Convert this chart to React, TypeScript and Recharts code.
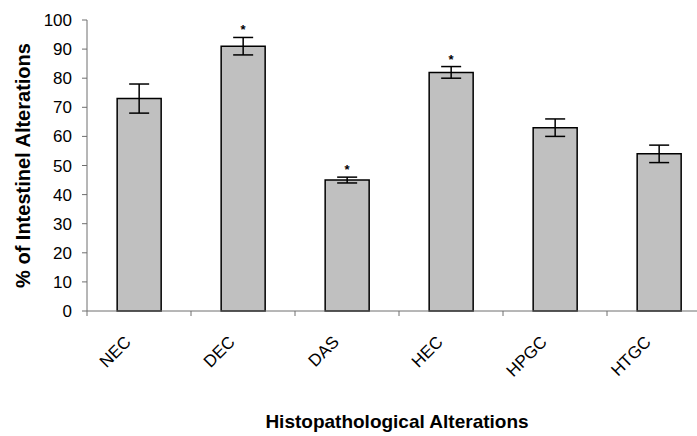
import React from "react";
import {
  ComposedChart,
  Bar,
  Line,
  XAxis,
  YAxis,
  ErrorBar,
} from "recharts";

const categories = ["NEC", "DEC", "DAS", "HEC", "HPGC", "HTGC"];
const values = [73, 91, 45, 82, 63, 54];
const errors = [5, 3, 1, 2, 3, 3];
const significant = [false, true, true, true, false, false];
const yTicks = [0, 10, 20, 30, 40, 50, 60, 70, 80, 90, 100];

const data = categories.map((name, i) => ({
  name,
  value: values[i],
  err: errors[i],
  star: significant[i] ? values[i] + errors[i] : null,
}));

const FONT = "'Liberation Sans', Arial, sans-serif";
const CHART_W = 720;
const CHART_H = 436;
const Y_AXIS_W = 87;
const RIGHT = 9;
const BAND = (CHART_W - Y_AXIS_W - RIGHT) / categories.length;

const CategoryTick = (props: any) => {
  const { x, y, payload } = props;
  const edge = x - BAND / 2;
  const tx = x - 7;
  const ty = y + 24;
  return (
    <g>
      <line x1={edge} y1={y - 8} x2={edge} y2={y - 3} stroke="#6e6e6e" />
      <text
        x={tx}
        y={ty}
        transform={`rotate(-45, ${tx}, ${ty})`}
        textAnchor="end"
        fontFamily={FONT}
        fontSize={17}
        fill="#000"
      >
        {payload.value}
      </text>
    </g>
  );
};

const StarDot = (props: any) => {
  const { cx, cy, payload } = props;
  if (payload.star == null) return <g key={props.key} />;
  return (
    <text
      key={props.key}
      x={cx}
      y={cy - 3}
      textAnchor="middle"
      fontFamily={FONT}
      fontSize={13}
      fontWeight="bold"
      fill="#000"
    >
      *
    </text>
  );
};

const YLabel = (props: any) => {
  const { viewBox } = props;
  const cy = viewBox.y + viewBox.height / 2;
  return (
    <text
      x={23}
      y={cy}
      transform={`rotate(-90, 23, ${cy})`}
      textAnchor="middle"
      dominantBaseline="central"
      fontFamily={FONT}
      fontSize={20}
      fontWeight="bold"
      fill="#000"
    >
      % of Intestinel Alterations
    </text>
  );
};

const XLabel = (props: any) => {
  const { viewBox } = props;
  const cx = viewBox.x + viewBox.width / 2 - 2;
  return (
    <text
      x={cx}
      y={viewBox.y + 117}
      textAnchor="middle"
      fontFamily={FONT}
      fontSize={19}
      fontWeight="bold"
      fill="#000"
    >
      Histopathological Alterations
    </text>
  );
};

export default function App() {
  return (
    <div
      style={{
        position: "fixed",
        left: 0,
        top: 0,
        width: 697,
        height: 436,
        overflow: "hidden",
        background: "#fff",
      }}
    >
      <ComposedChart
        width={CHART_W}
        height={CHART_H}
        data={data}
        margin={{ top: 20, right: RIGHT, left: 0, bottom: 0 }}
        barCategoryGap="29%"
      >
        <XAxis
          dataKey="name"
          height={125}
          stroke="#6e6e6e"
          tickLine={false}
          tick={<CategoryTick />}
          interval={0}
          label={<XLabel />}
        />
        <YAxis
          width={Y_AXIS_W}
          domain={[0, 100]}
          ticks={yTicks}
          interval={0}
          stroke="#6e6e6e"
          tickSize={5}
          tickMargin={10}
          tick={{ fill: "#000", fontFamily: FONT, fontSize: 17 }}
          label={<YLabel />}
        />
        <Bar
          dataKey="value"
          fill="#c0c0c0"
          stroke="#000"
          strokeWidth={1.5}
          isAnimationActive={false}
        >
          <ErrorBar
            dataKey="err"
            width={10}
            stroke="#000"
            strokeWidth={1.5}
            direction="y"
          />
        </Bar>
        <Line
          dataKey="star"
          stroke="none"
          dot={<StarDot />}
          activeDot={false}
          connectNulls={false}
          isAnimationActive={false}
        />
      </ComposedChart>
    </div>
  );
}
